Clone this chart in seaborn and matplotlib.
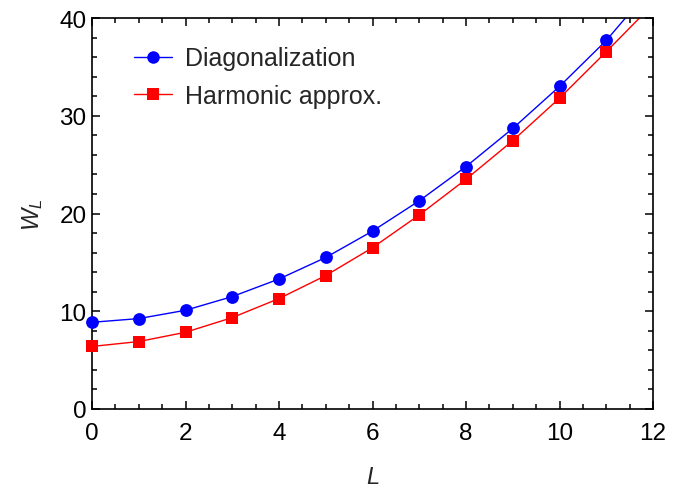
import matplotlib
matplotlib.use("Agg")
import matplotlib.pyplot as plt
from matplotlib.lines import Line2D
from matplotlib.ticker import MultipleLocator
import seaborn as sns
import pandas as pd

# Computed values W_L for L = 0..11
L_points = [0, 1, 2, 3, 4, 5, 6, 7, 8, 9, 10, 11]
diag_vals = [8.87, 9.25, 10.1, 11.5, 13.3, 15.5, 18.2, 21.3, 24.8, 28.7, 33.0, 37.7]
harm_vals = [6.4, 6.9, 7.85, 9.35, 11.3, 13.65, 16.5, 19.85, 23.5, 27.45, 31.8, 36.55]

# Guide curves continue one step further, running off the top of the frame
L_curve = L_points + [12]
diag_curve = diag_vals + [43.3]
harm_curve = harm_vals + [41.4]

sns.set_theme(style="ticks")
plt.rcParams["font.family"] = ["Liberation Sans", "DejaVu Sans"]
plt.rcParams["mathtext.fontset"] = "custom"
plt.rcParams["mathtext.it"] = "Liberation Sans:italic"
plt.rcParams["mathtext.rm"] = "Liberation Sans"

fig = plt.figure(figsize=(6.96, 4.89), dpi=100)
ax = fig.add_axes([92 / 696, 1 - 410 / 489, (653 - 92) / 696, (410 - 19) / 489])

blue = "#0000ff"
red = "#ff0000"

df_diag = pd.DataFrame({"L": L_curve, "W": diag_curve})
df_harm = pd.DataFrame({"L": L_curve, "W": harm_curve})
sns.lineplot(data=df_diag, x="L", y="W", ax=ax, color=blue, lw=1.0, sort=False)
sns.lineplot(data=df_harm, x="L", y="W", ax=ax, color=red, lw=1.0, sort=False)

pts_diag = pd.DataFrame({"L": L_points, "W": diag_vals})
pts_harm = pd.DataFrame({"L": L_points, "W": harm_vals})
sns.scatterplot(data=pts_diag, x="L", y="W", ax=ax, color=blue, marker="o",
                s=85, linewidth=0, zorder=4, clip_on=False)
sns.scatterplot(data=pts_harm, x="L", y="W", ax=ax, color=red, marker="s",
                s=65, linewidth=0, zorder=4, clip_on=False)

ax.set_xlim(0, 12)
ax.set_ylim(0, 40)
ax.xaxis.set_major_locator(MultipleLocator(2))
ax.xaxis.set_minor_locator(MultipleLocator(0.5))
ax.yaxis.set_major_locator(MultipleLocator(10))
ax.yaxis.set_minor_locator(MultipleLocator(2))
ax.tick_params(which="both", direction="in", top=True, right=True,
               labelsize=17.5, colors="black", width=1.1)
ax.tick_params(which="major", length=6)
ax.tick_params(which="minor", length=3.5)
ax.tick_params(axis="x", which="major", pad=9.5)
ax.tick_params(axis="y", which="major", pad=4)
for sp in ax.spines.values():
    sp.set_linewidth(1.2)
    sp.set_color("black")

ax.set_xlabel(r"$L$", fontsize=17, labelpad=15.5)
ax.set_ylabel(r"$W_L$", fontsize=17, labelpad=10)

handles = [
    Line2D([], [], color=blue, lw=1.0, marker="o", markersize=9, markeredgewidth=0),
    Line2D([], [], color=red, lw=1.0, marker="s", markersize=8.3, markeredgewidth=0),
]
ax.legend(handles, ["Diagonalization", "Harmonic approx."], loc="upper left",
          bbox_to_anchor=(0.035, 0.985), frameon=False, fontsize=18,
          handlelength=1.5, handletextpad=0.55, labelspacing=0.55)

fig.savefig("out.png", dpi=100)
